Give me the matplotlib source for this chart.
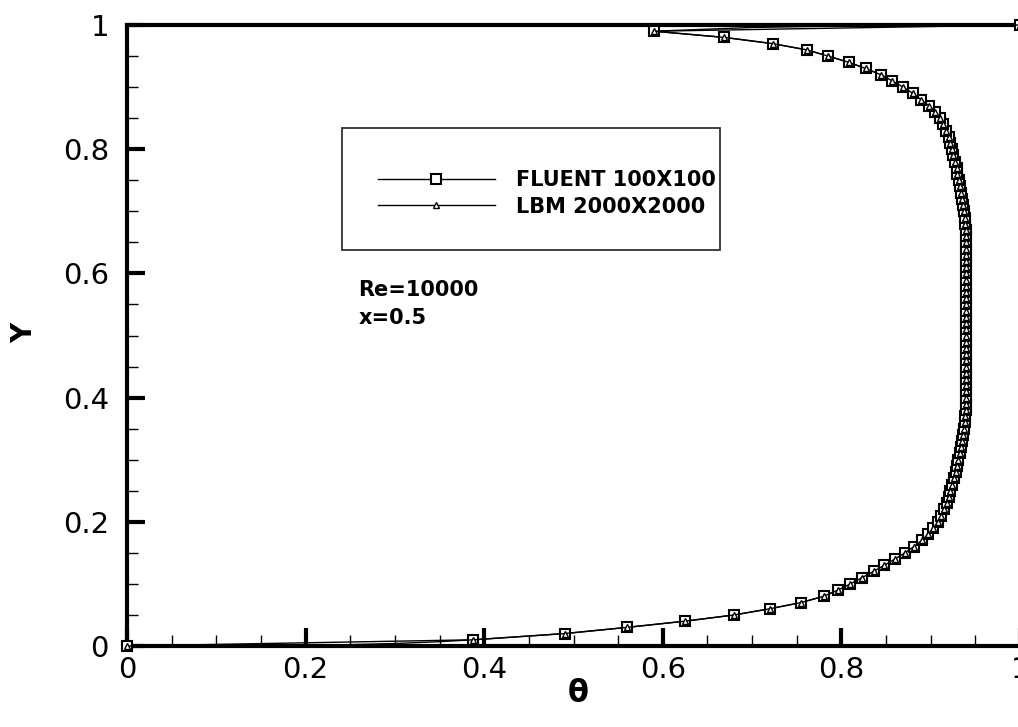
import matplotlib
matplotlib.use("Agg")
import matplotlib.pyplot as plt
from matplotlib.patches import Rectangle

# FLUENT 100x100 profile at x=0.5 (one node every 0.01 in Y)
y_fluent = [0.00, 0.01, 0.02, 0.03, 0.04, 0.05, 0.06, 0.07, 0.08, 0.09,
            0.10, 0.11, 0.12, 0.13, 0.14, 0.15, 0.16, 0.17, 0.18, 0.19,
            0.20, 0.21, 0.22, 0.23, 0.24, 0.25, 0.26, 0.27, 0.28, 0.29,
            0.30, 0.31, 0.32, 0.33, 0.34, 0.35, 0.36, 0.37, 0.38, 0.39,
            0.40, 0.41, 0.42, 0.43, 0.44, 0.45, 0.46, 0.47, 0.48, 0.49,
            0.50, 0.51, 0.52, 0.53, 0.54, 0.55, 0.56, 0.57, 0.58, 0.59,
            0.60, 0.61, 0.62, 0.63, 0.64, 0.65, 0.66, 0.67, 0.68, 0.69,
            0.70, 0.71, 0.72, 0.73, 0.74, 0.75, 0.76, 0.77, 0.78, 0.79,
            0.80, 0.81, 0.82, 0.83, 0.84, 0.85, 0.86, 0.87, 0.88, 0.89,
            0.90, 0.91, 0.92, 0.93, 0.94, 0.95, 0.96, 0.97, 0.98, 0.99,
            1.00]
theta_fluent = [0.000, 0.388, 0.490, 0.560, 0.625, 0.680, 0.720, 0.755, 0.780, 0.796,
                0.810, 0.823, 0.836, 0.848, 0.860, 0.871, 0.881, 0.890, 0.897, 0.903,
                0.908, 0.912, 0.915, 0.918, 0.920, 0.922, 0.924, 0.926, 0.928, 0.930,
                0.931, 0.933, 0.934, 0.935, 0.936, 0.937, 0.938, 0.938, 0.939, 0.939,
                0.940, 0.940, 0.940, 0.940, 0.940, 0.940, 0.940, 0.940, 0.940, 0.940,
                0.940, 0.940, 0.940, 0.940, 0.940, 0.940, 0.940, 0.940, 0.940, 0.940,
                0.940, 0.940, 0.940, 0.940, 0.940, 0.939, 0.939, 0.939, 0.938, 0.938,
                0.937, 0.936, 0.935, 0.934, 0.933, 0.932, 0.930, 0.929, 0.927, 0.925,
                0.924, 0.922, 0.920, 0.917, 0.914, 0.910, 0.905, 0.898, 0.889, 0.880,
                0.869, 0.857, 0.844, 0.827, 0.808, 0.785, 0.761, 0.723, 0.669, 0.590,
                1.000]

# LBM 2000x2000: extra near-wall nodes that the coarse grid does not have
y_lbm_bottom = [0.0, 0.0004, 0.0015, 0.004, 0.007]
theta_lbm_bottom = [0.0, 0.13, 0.23, 0.30, 0.35]
y_lbm_top = [0.996, 0.9993, 1.0]
theta_lbm_top = [0.70, 0.83, 1.0]

x_ticks = [0, 0.2, 0.4, 0.6, 0.8, 1]
x_tick_labels = ["0", "0.2", "0.4", "0.6", "0.8", "1"]
y_ticks = [0, 0.2, 0.4, 0.6, 0.8, 1]
y_tick_labels = ["0", "0.2", "0.4", "0.6", "0.8", "1"]

# LBM line: near-wall nodes + same interior nodes as the markers
y_lbm = y_lbm_bottom + y_fluent[1:-1] + y_lbm_top
theta_lbm = theta_lbm_bottom + theta_fluent[1:-1] + theta_lbm_top
n_bot = len(y_lbm_bottom)
lbm_marks = [0] + list(range(n_bot, n_bot + len(y_fluent) - 2)) + [len(y_lbm) - 1]

fig = plt.figure(figsize=(10.18, 7.27), dpi=100)
ax = fig.add_axes([127 / 1018, 81 / 727, 893 / 1018, 621 / 727])

ax.plot(theta_fluent, y_fluent, color="black", lw=1.0, marker="s", ms=7.5,
        mfc="white", mec="black", mew=1.5, clip_on=False, zorder=4,
        label="FLUENT 100X100")
ax.plot(theta_lbm, y_lbm, color="black", lw=1.0, marker="^", ms=4.5,
        mfc="white", mec="black", mew=1.0, markevery=lbm_marks,
        clip_on=False, zorder=5, label="LBM 2000X2000")

ax.set_xlim(0, 1)
ax.set_ylim(0, 1)
ax.set_xticks(x_ticks)
ax.set_xticklabels(x_tick_labels)
ax.set_yticks(y_ticks)
ax.set_yticklabels(y_tick_labels)
ax.set_xticks([i * 0.05 for i in range(21)], minor=True)
ax.set_yticks([i * 0.05 for i in range(21)], minor=True)
ax.tick_params(which="major", direction="in", length=13, width=3,
               labelsize=21, pad=7, top=False, right=False)
ax.tick_params(which="minor", direction="in", length=8, width=1,
               top=False, right=False)
ax.tick_params(axis="y", which="major", pad=13)
for s in ax.spines.values():
    s.set_linewidth(3)

ax.set_xlabel("θ", fontsize=22, fontweight="bold")
ax.xaxis.label.set_va("center")
ax.xaxis.set_label_coords(0.505, -0.077)
ax.set_ylabel("Y", fontsize=20, fontweight="bold")
ax.yaxis.label.set_va("center")
ax.yaxis.set_label_coords(-0.115, 0.504)

ax.text(0.259, 0.573, "Re=10000", transform=ax.transAxes, fontsize=15,
        fontweight="bold", va="center", ha="left")
ax.text(0.259, 0.528, "x=0.5", transform=ax.transAxes, fontsize=15,
        fontweight="bold", va="center", ha="left")

# legend box drawn separately (tecplot style, lots of padding)
ax.add_patch(Rectangle((0.241, 0.638), 0.423, 0.196, transform=ax.transAxes,
                       fill=False, lw=1.3, edgecolor="#333333", zorder=6))
leg = ax.legend(loc="center left", bbox_to_anchor=(0.281, 0.7287),
                frameon=False, borderpad=0, borderaxespad=0, numpoints=1,
                handlelength=5.6, handletextpad=1.05, labelspacing=0.3,
                prop={"size": 15, "weight": "bold"})

plt.savefig("out.png", dpi=100)
plt.close()
